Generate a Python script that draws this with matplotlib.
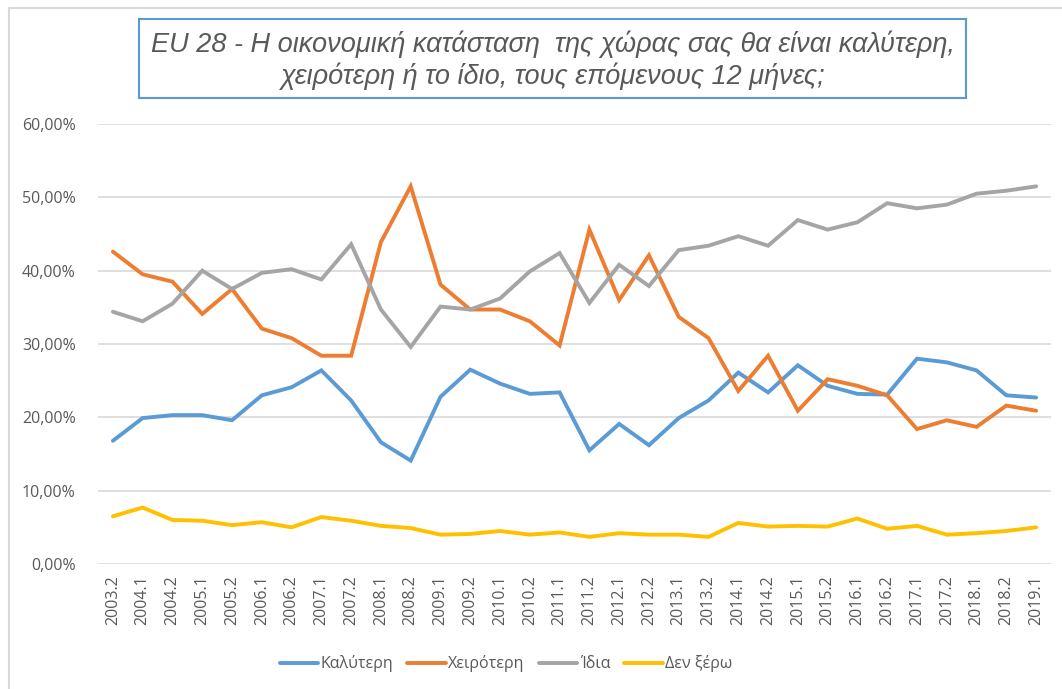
import matplotlib
matplotlib.use("Agg")
import matplotlib.pyplot as plt
from matplotlib.patches import Rectangle
from matplotlib.ticker import FuncFormatter
from matplotlib.lines import Line2D

categories = ["2003.2", "2004.1", "2004.2", "2005.1", "2005.2", "2006.1", "2006.2", "2007.1",
              "2007.2", "2008.1", "2008.2", "2009.1", "2009.2", "2010.1", "2010.2", "2011.1",
              "2011.2", "2012.1", "2012.2", "2013.1", "2013.2", "2014.1", "2014.2", "2015.1",
              "2015.2", "2016.1", "2016.2", "2017.1", "2017.2", "2018.1", "2018.2", "2019.1"]

better = [16.8, 19.9, 20.3, 20.3, 19.6, 23.0, 24.1, 26.4, 22.3, 16.6, 14.1, 22.8, 26.5, 24.6,
          23.2, 23.4, 15.5, 19.1, 16.2, 19.9, 22.3, 26.1, 23.4, 27.1, 24.3, 23.2, 23.1, 28.0,
          27.5, 26.4, 23.0, 22.7]
worse = [42.6, 39.5, 38.5, 34.1, 37.5, 32.1, 30.8, 28.4, 28.4, 43.9, 51.5, 38.1, 34.7, 34.7,
         33.1, 29.8, 45.6, 36.0, 42.1, 33.7, 30.8, 23.6, 28.4, 20.9, 25.2, 24.3, 23.0, 18.4,
         19.6, 18.7, 21.6, 20.9]
same = [34.4, 33.1, 35.5, 40.0, 37.5, 39.7, 40.2, 38.8, 43.6, 34.7, 29.6, 35.1, 34.7, 36.2,
        39.9, 42.4, 35.6, 40.8, 37.9, 42.8, 43.4, 44.7, 43.4, 46.9, 45.6, 46.6, 49.2, 48.5,
        49.0, 50.5, 50.9, 51.5]
dontknow = [6.5, 7.7, 6.0, 5.9, 5.3, 5.7, 5.0, 6.4, 5.9, 5.2, 4.9, 4.0, 4.1, 4.5, 4.0, 4.3,
            3.7, 4.2, 4.0, 4.0, 3.7, 5.6, 5.1, 5.2, 5.1, 6.2, 4.8, 5.2, 4.0, 4.2, 4.5, 5.0]

series_names = ["Καλύτερη", "Χειρότερη", "Ίδια", "Δεν ξέρω"]
y_ticks = [0, 10, 20, 30, 40, 50, 60]
title_lines = ["EU 28 - Η οικονομική κατάσταση  της χώρας σας θα είναι καλύτερη,",
               "χειρότερη ή το ίδιο, τους επόμενους 12 μήνες;"]

colors = ["#5B9BD5", "#ED7D31", "#A5A5A5", "#FFC000"]
text_color = "#595959"
font = ["Open Sans", "DejaVu Sans"]
plt.rcParams["font.family"] = font

W, H = 1062, 689
fig = plt.figure(figsize=(W / 100, H / 100), dpi=100)

# outer chart border (only top and left visible)
fig.add_artist(Line2D([9 / W, 9 / W], [0, 1 - 8 / H], transform=fig.transFigure,
                      color="#D9D9D9", lw=1.5))
fig.add_artist(Line2D([9 / W, 1], [1 - 8 / H, 1 - 8 / H], transform=fig.transFigure,
                      color="#D9D9D9", lw=1.5))

ax = fig.add_axes([98 / W, (H - 564) / H, (1051 - 98) / W, (564 - 124) / H])
x = list(range(len(categories)))
for vals, c, name in zip([better, worse, same, dontknow], colors, series_names):
    ax.plot(x, [v / 100 for v in vals], color=c, lw=2.8, label=name,
            solid_joinstyle="miter", solid_capstyle="round", zorder=3)

ax.set_xlim(-0.5, len(categories) - 0.5)
ax.set_ylim(0, 0.6)
ax.set_yticks([t / 100 for t in y_ticks])
ax.yaxis.set_major_formatter(FuncFormatter(lambda v, p: f"{v*100:.2f}%".replace(".", ",")))
ax.set_xticks(x)
ax.set_xticklabels(categories, rotation=90)
ax.tick_params(axis="both", length=0, colors=text_color, labelsize=11.5)
ax.tick_params(axis="y", pad=16)
ax.tick_params(axis="x", pad=8)
ax.grid(axis="y", color="#D9D9D9", lw=1.2)
ax.set_axisbelow(True)
for s in ax.spines.values():
    s.set_visible(False)

# title box
box_l, box_r, box_t, box_b = 139, 966, 19, 98
fig.add_artist(Rectangle((box_l / W, 1 - box_b / H), (box_r - box_l) / W, (box_b - box_t) / H,
                         transform=fig.transFigure, fill=False, edgecolor="#5B9BD5", lw=1.5))
tfam = ["Liberation Sans", "DejaVu Sans"]
t1 = fig.text(553 / W, 1 - 44 / H, title_lines[0], ha="center", va="center",
              style="italic", color=text_color, fontsize=17, family=tfam)
t2 = fig.text(553 / W, 1 - 76 / H, title_lines[1], ha="center", va="center",
              style="italic", color=text_color, fontsize=17, family=tfam)
fig.canvas.draw()
r = fig.canvas.get_renderer()
w1 = t1.get_window_extent(r).width
scale = 808 / w1
t1.set_fontsize(17 * scale)
t2.set_fontsize(17 * scale)

leg = fig.legend(loc="center", bbox_to_anchor=(506 / W, 1 - 664 / H), ncol=4, frameon=False,
                 fontsize=11.5, handlelength=2.4, handletextpad=0.15, columnspacing=0.9,
                 labelcolor=text_color)

fig.savefig("out.png", dpi=100)
